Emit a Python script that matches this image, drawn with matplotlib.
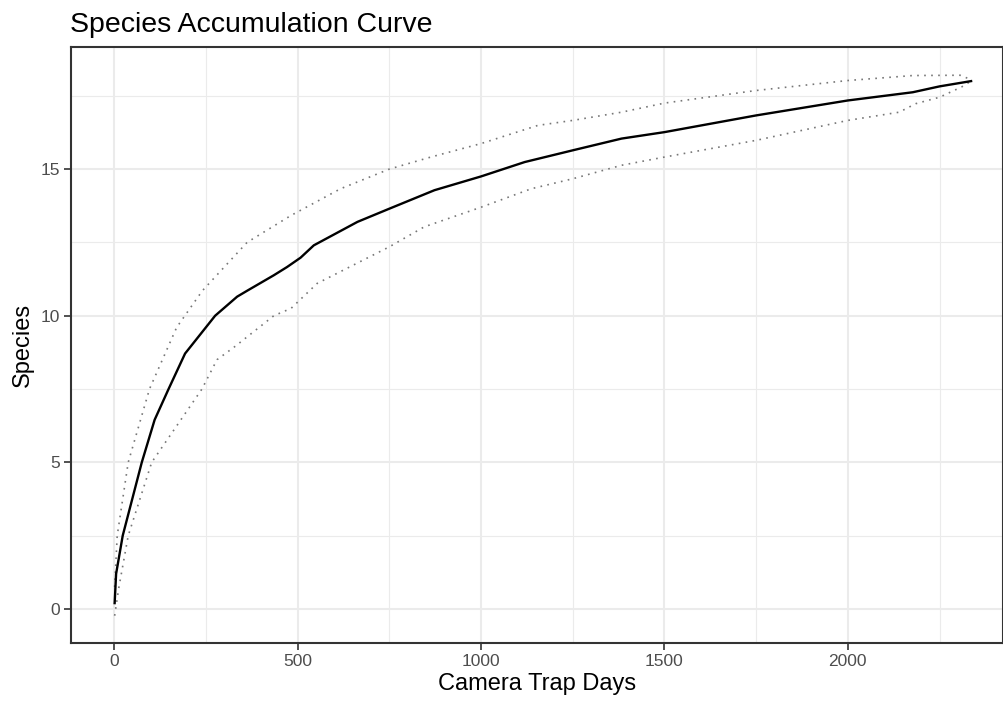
import matplotlib
matplotlib.use("Agg")
import matplotlib.pyplot as plt

plt.rcParams['font.family'] = ['Liberation Sans', 'DejaVu Sans']

# Species accumulation: mean curve
days_mean = [1, 5, 23, 75, 110, 148, 193, 275, 335, 362, 435, 471, 508, 544, 663, 750,
             873, 1000, 1119, 1250, 1383, 1500, 1750, 2000, 2177, 2250, 2336]
species_mean = [0.2, 1.2, 2.5, 5.0, 6.45, 7.5, 8.71, 10.0, 10.65, 10.85, 11.38, 11.66,
                11.98, 12.4, 13.2, 13.65, 14.28, 14.75, 15.24, 15.64, 16.04, 16.26, 16.83,
                17.34, 17.62, 17.82, 18.0]

# Upper confidence bound
days_upper = [1, 8, 38, 96, 170, 240, 362, 482, 617, 750, 863, 1000, 1155, 1250, 1383,
              1500, 1750, 2000, 2177, 2306, 2336]
species_upper = [0.75, 2.5, 5.0, 7.5, 9.6, 10.85, 12.5, 13.42, 14.33, 15.0, 15.41, 15.87,
                 16.49, 16.66, 16.94, 17.25, 17.68, 18.02, 18.19, 18.2, 18.05]

# Lower confidence bound
days_lower = [1, 12, 38, 102, 239, 280, 330, 435, 482, 553, 750, 845, 1000, 1137, 1250,
              1383, 1500, 1750, 2000, 2140, 2185, 2250, 2310, 2336]
species_lower = [-0.23, 0.7, 2.5, 5.0, 7.5, 8.5, 8.96, 10.0, 10.25, 11.1, 12.35, 13.03,
                 13.7, 14.33, 14.67, 15.13, 15.41, 15.98, 16.66, 16.94, 17.23, 17.45, 17.8,
                 18.0]

x_ticks = [0, 500, 1000, 1500, 2000]
y_ticks = [0, 5, 10, 15]

W, H = 1004, 707
fig = plt.figure(figsize=(W / 100, H / 100), dpi=100)
left, right, top, bottom = 71, 1003, 46.5, 643
ax = fig.add_axes([left / W, 1 - bottom / H, (right - left) / W, (bottom - top) / H])

ax.set_xlim(-118, 2423)
ax.set_ylim(-1.16, 19.18)

# grid
for v in [250, 750, 1250, 1750, 2250]:
    ax.axvline(v, color='#EBEBEB', lw=0.8, zorder=0)
for v in [2.5, 7.5, 12.5, 17.5]:
    ax.axhline(v, color='#EBEBEB', lw=0.8, zorder=0)
for v in x_ticks:
    ax.axvline(v, color='#EBEBEB', lw=1.5, zorder=0)
for v in y_ticks:
    ax.axhline(v, color='#EBEBEB', lw=1.5, zorder=0)

ax.plot(days_upper, species_upper, color='#777777', lw=1.2, linestyle=(0, (1, 3.2)), zorder=2)
ax.plot(days_lower, species_lower, color='#777777', lw=1.2, linestyle=(0, (1, 3.2)), zorder=2)
ax.plot(days_mean, species_mean, color='black', lw=1.7, zorder=3)

ax.set_xticks(x_ticks)
ax.set_yticks(y_ticks)
ax.set_xticklabels([str(t) for t in x_ticks])
ax.set_yticklabels([str(t) for t in y_ticks])
ax.tick_params(axis='both', colors='#333333', labelcolor='#4D4D4D', labelsize=12.5,
               length=5, width=1.2, direction='out', pad=3)
for s in ax.spines.values():
    s.set_color('#333333')
    s.set_linewidth(1.5)

ax.set_xlabel('Camera Trap Days', fontsize=17, color='black', labelpad=3)
ax.set_ylabel('Species', fontsize=17, color='black', labelpad=5)
fig.text(70 / W, 1 - 32 / H, 'Species Accumulation Curve', fontsize=20.5, color='black',
         ha='left', va='baseline')

fig.savefig('out.png', dpi=100, facecolor='white')
